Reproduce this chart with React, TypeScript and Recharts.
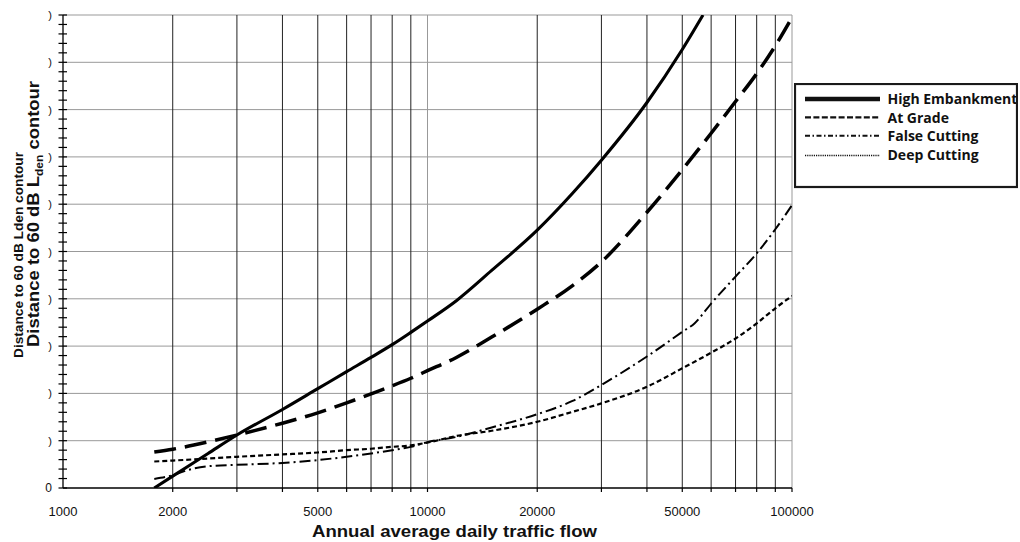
import React from 'react';
import { LineChart, Line, XAxis, YAxis, ReferenceLine, Legend } from 'recharts';

// ---- Data ----
const highEmbankmentFlow = [1780, 2000, 2500, 3000, 4000, 5000, 6000, 7000, 8000, 9000, 10000, 12000, 15000, 20000, 25000, 30000, 40000, 50000, 57000];
const highEmbankmentDistance = [0, 2.5, 7.3, 11.2, 16.6, 21.0, 24.6, 27.6, 30.3, 32.9, 35.3, 39.6, 46.0, 54.5, 62.3, 69.3, 81.5, 92.7, 100];

const atGradeFlow = [1780, 2000, 2500, 3000, 4000, 5000, 6000, 7000, 8000, 9000, 10000, 12000, 15000, 20000, 25000, 30000, 40000, 50000, 60000, 70000, 80000, 90000, 100000];
const atGradeDistance = [7.6, 8.2, 9.75, 11.2, 13.7, 15.9, 18.0, 19.9, 21.6, 23.2, 24.8, 27.6, 31.9, 37.8, 42.8, 47.8, 58.3, 67.3, 75.0, 81.7, 87.6, 93.5, 99.5];

const falseCuttingFlow = [1780, 2000, 2200, 2500, 3000, 4000, 5000, 6000, 7000, 8000, 9000, 10000, 12000, 15000, 20000, 25000, 30000, 40000, 50000, 54000, 60000, 70000, 80000, 90000, 100000];
const falseCuttingDistance = [1.9, 2.7, 3.8, 4.6, 4.9, 5.3, 5.9, 6.6, 7.3, 8.0, 8.7, 9.7, 10.8, 12.8, 15.6, 18.4, 21.8, 27.8, 33.0, 34.8, 39.0, 44.7, 49.6, 54.7, 59.8];

const deepCuttingFlow = [1780, 2000, 3000, 4000, 5000, 6000, 7000, 8000, 9000, 10000, 12000, 15000, 20000, 25000, 30000, 40000, 50000, 60000, 70000, 80000, 90000, 100000];
const deepCuttingDistance = [5.6, 5.8, 6.6, 7.1, 7.5, 8.0, 8.3, 8.7, 9.0, 9.6, 11.0, 12.1, 14.0, 16.1, 17.9, 21.4, 25.3, 28.6, 31.6, 34.8, 38.0, 40.6];

const seriesNames = ['High Embankment', 'At Grade', 'False Cutting', 'Deep Cutting'];

const xTickValues = [1000, 2000, 3000, 4000, 5000, 6000, 7000, 8000, 9000, 10000, 20000, 30000, 40000, 50000, 60000, 70000, 80000, 90000, 100000];
const xLabelledTicks = [1000, 2000, 5000, 10000, 20000, 50000, 100000];
const xGrayGridValues = [10000, 100000];
const yTickValues = Array.from({ length: 51 }, (_, i) => i * 2);
const yGridValues = [10, 20, 30, 40, 50, 60, 70, 80, 90, 100];

const xTitle = 'Annual average daily traffic flow';
const yTitleSmall = 'Distance to 60 dB Lden contour';

// ---- Build series ----
const zip = (xs: number[], ys: number[]) => xs.map((x, i) => ({ x, y: ys[i] }));
const seriesData = [
  zip(highEmbankmentFlow, highEmbankmentDistance),
  zip(atGradeFlow, atGradeDistance),
  zip(falseCuttingFlow, falseCuttingDistance),
  zip(deepCuttingFlow, deepCuttingDistance),
];

const chartStyles = [
  { width: 3.1, dash: undefined },
  { width: 3.5, dash: '22 9' },
  { width: 2, dash: '11 4 2 4' },
  { width: 2.2, dash: '5 3' },
];
const legendStyles = [
  { width: 4.5, dash: undefined },
  { width: 2.2, dash: '6 2.4' },
  { width: 2, dash: '5 2.5 1.5 2.5' },
  { width: 1.4, dash: '1.2 1' },
];

const FONT = '"Liberation Sans", Arial, sans-serif';

const XTick = (props: any) => {
  const { x, y, payload } = props;
  const v = payload.value;
  const labelled = xLabelledTicks.includes(v);
  return (
    <g>
      {v !== 1000 && <line x1={x} x2={x} y1={y} y2={y + 4} stroke="#000" strokeWidth={1.2} />}
      {labelled && (
        <text x={x} y={y + 28} textAnchor="middle" fontFamily={FONT} fontSize={13} fill="#111">
          {String(v)}
        </text>
      )}
    </g>
  );
};

const YTick = (props: any) => {
  const { x, y, payload } = props;
  const v = payload.value;
  const major = v % 10 === 0;
  return (
    <g>
      <line x1={x - 4.5} x2={x + 4} y1={y} y2={y} stroke="#000" strokeWidth={1.2} />
      {major && (
        <text x={x - 11} y={y + 4} textAnchor="end" fontFamily={FONT} fontSize={v === 0 ? 12 : 11} fill="#111">
          {v === 0 ? '0' : ')'}
        </text>
      )}
    </g>
  );
};

const XTitle = () => (
  <text x={312} y={537} fontFamily={FONT} fontWeight={700} fontSize={16} fill="#111" textLength={285} lengthAdjust="spacingAndGlyphs">
    {xTitle}
  </text>
);

const YTitle = () => (
  <g>
    <text transform="translate(23,358) rotate(-90)" x={0} y={0} fontFamily={FONT} fontWeight={700} fontSize={12.5} fill="#111" textLength={206} lengthAdjust="spacingAndGlyphs">
      {yTitleSmall}
    </text>
    <text transform="translate(39,347) rotate(-90)" x={0} y={0} fontFamily={FONT} fontWeight={700} fontSize={17} fill="#111" textLength={266} lengthAdjust="spacingAndGlyphs">
      <tspan>Distance to 60 dB L</tspan>
      <tspan fontSize={11} dy={4}>den</tspan>
      <tspan dy={-4}> contour</tspan>
    </text>
  </g>
);

const renderLegend = () => (
  <svg width={224} height={106} style={{ display: 'block' }}>
    {seriesNames.map((name, i) => {
      const ly = [16, 34.3, 52.7, 72.5][i];
      const ty = [20.9, 39.6, 58.4, 77.1][i];
      const s = legendStyles[i];
      return (
        <g key={name}>
          <line x1={11} x2={86} y1={ly} y2={ly} stroke="#111" strokeWidth={s.width} strokeDasharray={s.dash} />
          <text x={93.5} y={ty} fontFamily='"Open Sans", sans-serif' fontWeight={700} fontSize={14} fill="#111">
            {name}
          </text>
        </g>
      );
    })}
    <rect x={1} y={1} width={222} height={103} fill="none" stroke="#1a1a1a" strokeWidth={2.2} />
  </svg>
);

export default function App() {
  return (
    <div style={{ position: 'absolute', left: 0, top: 0, width: 1020, height: 542, background: '#fff' }}>
      <LineChart width={1020} height={542} margin={{ top: 15, right: 228, bottom: 0, left: 0 }}>
        <XAxis
          type="number"
          dataKey="x"
          scale="log"
          domain={[1000, 100000]}
          allowDataOverflow
          ticks={xTickValues}
          interval={0}
          height={54}
          tick={<XTick />}
          tickLine={false}
          tickSize={0}
          tickMargin={0}
          axisLine={{ stroke: '#000', strokeWidth: 1.5 }}
          label={<XTitle />}
        />
        <YAxis
          type="number"
          domain={[0, 100]}
          allowDataOverflow
          ticks={yTickValues}
          interval={0}
          width={63}
          tick={<YTick />}
          tickLine={false}
          tickSize={0}
          tickMargin={0}
          axisLine={{ stroke: '#000', strokeWidth: 1.3 }}
          label={<YTitle />}
        />
        {yGridValues.map((v) => (
          <ReferenceLine key={'h' + v} y={v} stroke="#999" strokeWidth={1} />
        ))}
        {xTickValues
          .filter((v) => v !== 1000)
          .map((v) => (
            <ReferenceLine
              key={'v' + v}
              x={v}
              stroke={xGrayGridValues.includes(v) ? '#999' : '#222'}
              strokeWidth={1}
            />
          ))}
        {seriesData.map((d, i) => (
          <Line
            key={seriesNames[i]}
            name={seriesNames[i]}
            data={d}
            dataKey="y"
            type="monotone"
            stroke="#000"
            strokeWidth={chartStyles[i].width}
            strokeDasharray={chartStyles[i].dash}
            dot={false}
            activeDot={false}
            isAnimationActive={false}
          />
        ))}
        <Legend
          layout="horizontal"
          verticalAlign="middle"
          align="center"
          content={renderLegend}
          wrapperStyle={{ left: 794, top: 83, width: 224, height: 106 }}
        />
      </LineChart>
    </div>
  );
}
